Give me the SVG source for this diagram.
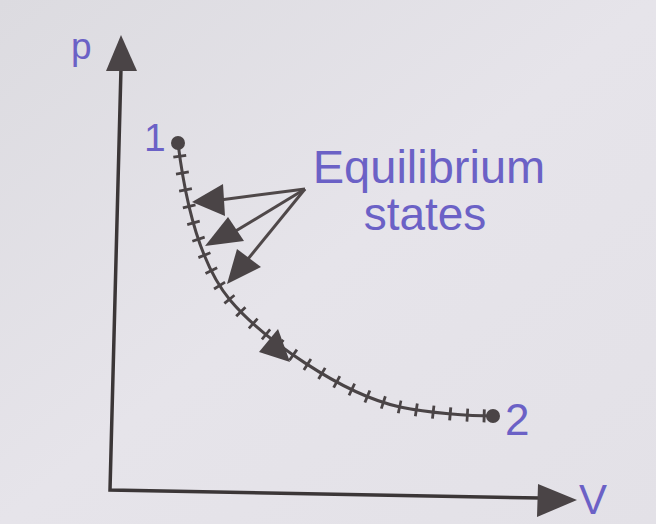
<svg xmlns="http://www.w3.org/2000/svg" width="656" height="524" viewBox="0 0 656 524">
<defs>
<style>
.lbl{font-family:"Liberation Sans",Arial,sans-serif;fill:#6b61c6}
.ax{stroke:#3b3637;stroke-width:3.5;fill:none;stroke-linecap:round}
.head{fill:#4a4446}
.ptr{stroke:#4f4849;stroke-width:3;fill:none}
</style>
<linearGradient id="bg" x1="0" y1="0" x2="1" y2="1">
<stop offset="0" stop-color="#dcdbe0"/>
<stop offset="0.5" stop-color="#e6e4ea"/>
<stop offset="1" stop-color="#e3e1e7"/>
</linearGradient>
</defs>
<rect width="656" height="524" fill="url(#bg)"/>
<g id="axes">
<path class="ax" d="M121,68 L110,490 L540,498"/>
<polygon class="head" points="121,35 137,71 106,71"/>
<polygon class="head" points="577,500 537,517 538,484"/>
<text class="lbl" x="71" y="59" font-size="37">p</text>
<text class="lbl" x="579" y="514" font-size="42">V</text>
</g>
<g id="connectors">
<path id="process" d="M178,143 C185,200 200,264 230,300 C262,338 341,394 400,407 C429,413 470,416 493,416" stroke="#4a4446" stroke-width="3" fill="none"/>
<path d="M178,143 C185,200 200,264 230,300 C262,338 341,394 400,407 C429,413 470,416 493,416" stroke="#4a4446" stroke-width="13" fill="none" stroke-dasharray="2.8 14.2" stroke-dashoffset="-12"/>
<polygon class="head" points="290,362 259,352 278,329"/>
<g id="pointers">
<line class="ptr" x1="305" y1="189" x2="220" y2="200"/>
<line class="ptr" x1="305" y1="189" x2="234" y2="232"/>
<line class="ptr" x1="305" y1="189" x2="248" y2="259"/>
<polygon class="head" points="192,202 223,184 225,216"/>
<polygon class="head" points="205,246 228,217 244,241"/>
<polygon class="head" points="227,284 237,249 261,267"/>
</g>
</g>
<g id="state1">
<circle cx="178" cy="143" r="7" fill="#4a4446"/>
<text class="lbl" x="144" y="151" font-size="39">1</text>
</g>
<g id="state2">
<circle cx="493" cy="416" r="7" fill="#4a4446"/>
<text class="lbl" x="505" y="435" font-size="44">2</text>
</g>
<g id="equilibrium-label">
<text class="lbl" x="429" y="183" font-size="47" text-anchor="middle">Equilibrium</text>
<text class="lbl" x="425" y="230" font-size="46" text-anchor="middle">states</text>
</g>
</svg>
